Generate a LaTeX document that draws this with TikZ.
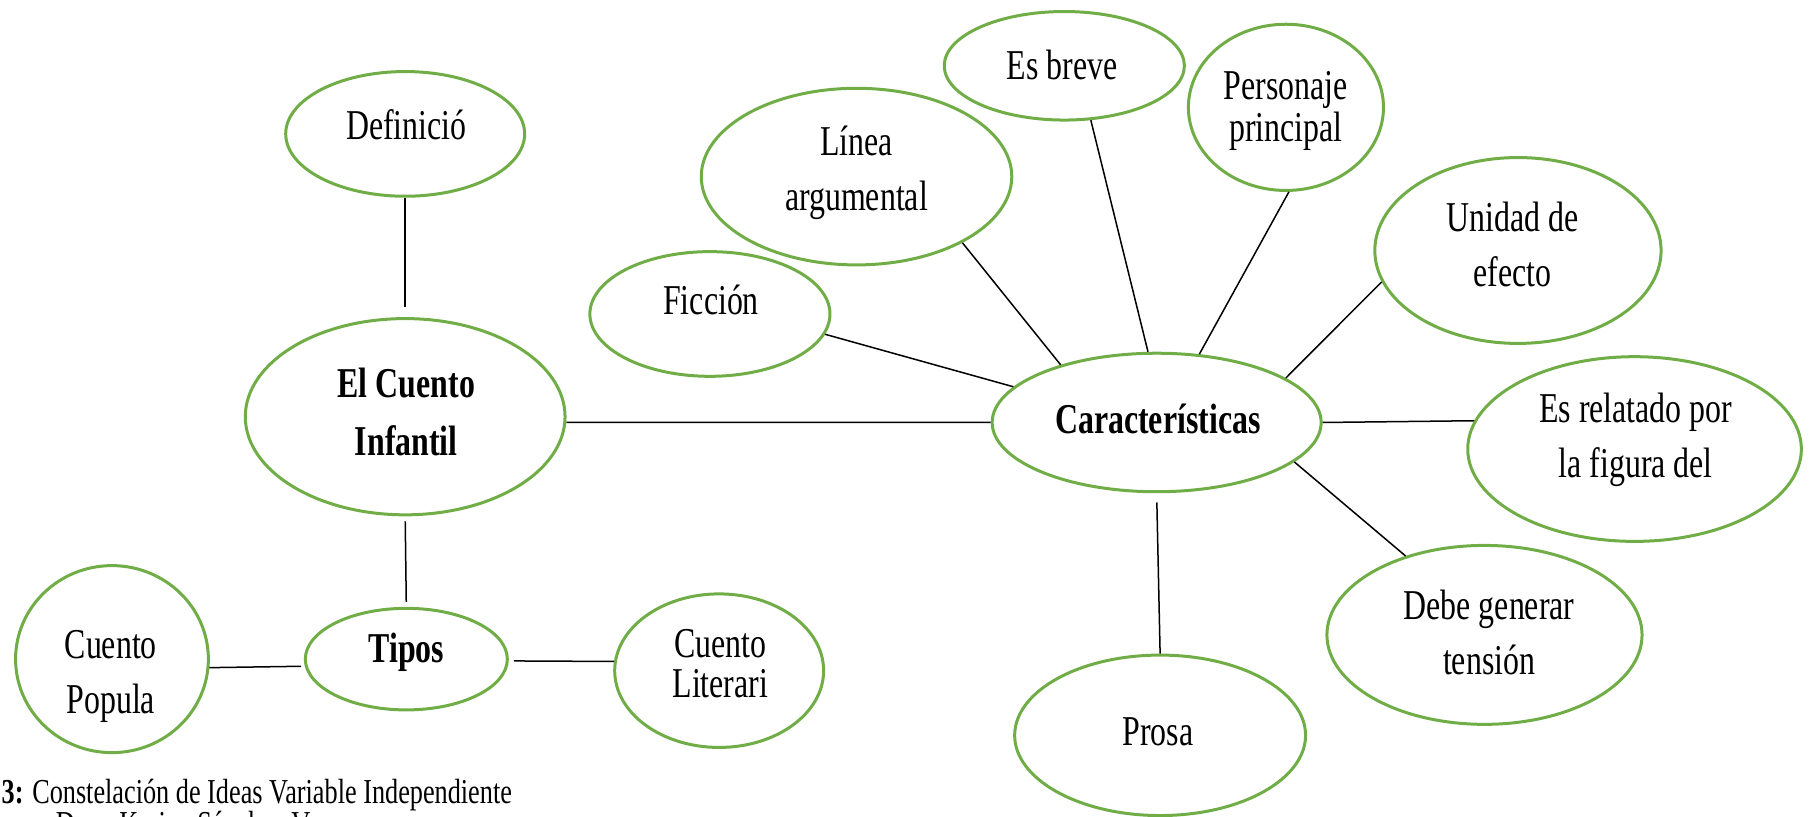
\documentclass[tikz,border=0pt]{standalone}
\usepackage{fontspec}
\setmainfont{Liberation Serif}[FakeStretch=0.75]
\usetikzlibrary{shapes.geometric}
\definecolor{bubblegreen}{HTML}{70AD47}
\tikzset{
    bubble/.style 2 args={
        ellipse,
        draw=bubblegreen,
        line width=1.2pt,
        inner sep=0pt,
        minimum width=#1*0.4617pt,
        minimum height=#2*0.4617pt
    },
    words/.style={
        align=center,
        inner sep=0pt,
        font=\fontsize{17}{22}\selectfont
    },
    link/.style={line width=0.6pt}
}
\begin{document}
\begin{tikzpicture}[x=0.4617pt, y=-0.4617pt]
            \useasboundingbox (0,0) rectangle (1568,707);

            \node[bubble={207}{108}, name=def] at (351,116) {};
            \node[words, name=def-t] at (352,108) {Definició};

            \node[bubble={277}{170}, name=cuento] at (351,361) {};
            \node[words, font=\fontsize{17}{23}\bfseries, name=cuento-t] at (352,357) {El Cuento\\Infantil};

            \node[bubble={175}{88}, name=tipos] at (352,571) {};
            \node[words, font=\fontsize{17}{22}\bfseries, name=tipos-t] at (352,565) {Tipos};

            \node[bubble={167}{162}, name=popula] at (97,571) {};
            \node[words, name=popula-t] at (96,586) {Cuento\\Popula};

            \node[bubble={181}{133}, name=literari] at (623,581) {};
            \node[words, name=literari-t] at (624,575) {Cuento\\[-6pt]Literari};

            \node[bubble={285}{120}, name=car] at (1002,366) {};
            \node[words, font=\fontsize{17}{22}\bfseries, name=car-t] at (1003,363) {Características};

            \node[bubble={208}{108}, name=ficcion] at (615,272) {};
            \node[words, name=ficcion-t] at (616,260) {Ficción};

            \node[bubble={269}{153}, name=linea] at (742,153) {};
            \node[words, name=linea-t] at (742,150) {Línea\\argumental};

            \node[bubble={208}{94}, name=breve] at (922,57) {};
            \node[words, name=breve-t] at (920,56) {Es breve};

            \node[bubble={169}{144}, name=personaje] at (1114,93) {};
            \node[words, name=personaje-t] at (1114,96) {Personaje\\[-5.4pt]principal};

            \node[bubble={248}{161}, name=unidad] at (1315,217) {};
            \node[words, name=unidad-t] at (1310,212) {Unidad de\\efecto};

            \node[bubble={289}{160}, name=relatado] at (1416,389) {};
            \node[words, name=relatado-t] at (1417,381) {Es relatado por\\la figura del};

            \node[bubble={273}{155}, name=debe] at (1286,550) {};
            \node[words, name=debe-t] at (1290,548) {Debe generar\\tensión};

            \node[bubble={252}{139}, name=prosa] at (1005,637) {};
            \node[words, name=prosa-t] at (1003,634) {Prosa};

            \draw[link, shorten >=4pt] (def.south) -- (cuento.north);
            \draw[link, shorten <=2pt, shorten >=2pt] (cuento.south) -- (tipos.north);

            \draw[link, shorten >=1.5pt] (popula.-5) -- (tipos.-176);
            \draw[link, shorten <=2pt] (tipos.-1) -- (literari.175);

            \draw[link] (cuento.-2) -- (car.west);

            \draw[link] (ficcion.-10) -- (car.166);
            \draw[link] (linea.-32) -- (car.149);
            \draw[link] (breve.-64) -- (car.97);
            \draw[link] (personaje.-88) -- (car.58);
            \draw[link] (unidad.-167) -- (car.19);
            \draw[link] (relatado.170) -- (car.east);
            \draw[link] (debe.135) -- (car.-16);
            \draw[link, shorten >=3.7pt] (prosa.north) -- (car.south);

            \node[anchor=west, inner sep=0pt, font=\fontsize{14}{16}\selectfont, name=caption] at (1,689) {\textbf{3:} Constelación de Ideas Variable Independiente};
            \node[anchor=north west, inner sep=0pt, font=\fontsize{14}{16}\selectfont, name=author] at (48,702) {Dany Karina Sánchez V};
        \end{tikzpicture}
\end{document}
